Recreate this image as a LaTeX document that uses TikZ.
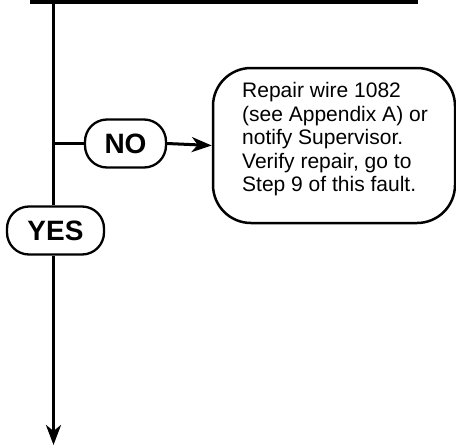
\documentclass[tikz,border=0pt]{standalone}
\usepackage{fontspec}
\setmainfont{Liberation Sans}
\usetikzlibrary{arrows.meta}
\tikzset{
  flow/.style={line width=3pt},
  arr/.style={flow,-{Stealth[length=20pt,width=15pt,inset=6pt]}},
  answer/.style={draw,line width=2.3pt,rounded corners=22pt,fill=white,
    font=\fontsize{28}{30}\selectfont\bfseries,inner sep=0pt,minimum height=48pt},
  action/.style={draw,line width=2.5pt,rounded corners=38pt,fill=white,
    minimum width=242pt,minimum height=155pt,inner sep=0pt},
  actiontext/.style={align=left,inner sep=0pt,anchor=west,
    font=\fontsize{21}{23.5}\selectfont}
}
\begin{document}
\begin{tikzpicture}[x=1pt,y=1pt]
\useasboundingbox (0,0) rectangle (456,-445);
% top bar
\coordinate (barL) at (30,-2);
\coordinate (barR) at (418,-2);
\draw[line width=4pt] (barL) -- (barR);
\coordinate (top) at (53.5,-2);
\coordinate (branch) at (53.5,-143.5);
\coordinate (bottom) at (53.5,-445);
% nodes
\node[answer,minimum width=81pt] (no) at (125.5,-143.5) {NO};
\node[answer,minimum width=97pt] (yes) at (55.5,-230.5) {YES};
\node[action] (box) at (334,-145.5) {};
\node[actiontext] (boxtext) at (242,-139.5) {Repair wire 1082\\(see Appendix A) or\\notify Supervisor.\\Verify repair, go to\\Step 9 of this fault.};
% connectors
\draw[flow] (top) -- (top |- yes.north);
\draw[flow] (branch) -- (no.west);
\draw[arr] (no.east) -- (box.west);
\draw[arr] (top |- yes.south) -- (bottom);
\end{tikzpicture}
\end{document}
